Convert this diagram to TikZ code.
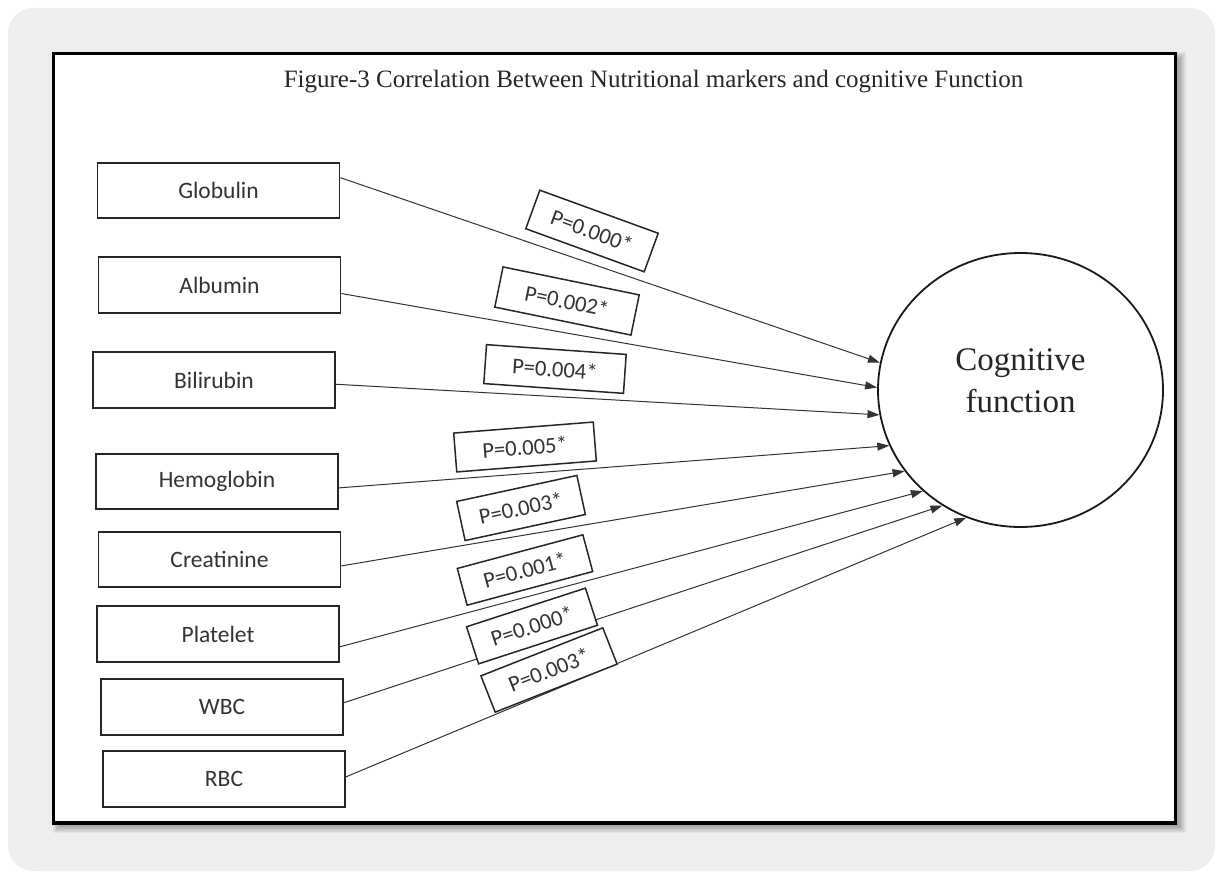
\documentclass[tikz,border=0pt]{standalone}
\usepackage{fontspec}
\setmainfont{Liberation Serif}
\newfontfamily\carl{Carlito}
\usetikzlibrary{arrows.meta,shapes.geometric}
\definecolor{bggray}{RGB}{238,238,238}
\begin{document}
\begin{tikzpicture}[x=1pt,y=-1pt,
  lbox/.style={draw=black!85, line width=1.8pt, fill=white, minimum width=242pt, minimum height=55pt, inner sep=0pt, font=\carl\fontsize{23.5}{27}\selectfont, text=black!80},
  pbox/.style={draw=black!85, line width=1.5pt, fill=white, inner sep=0pt, minimum height=39pt, font=\carl\fontsize{22.5}{26}\selectfont, text=black!80},
  conn/.style={draw=black!80, line width=1pt, -{Triangle[length=12pt,width=8pt]}}]
\useasboundingbox (0,0) rectangle (1219,872);
% page background
\fill[bggray, rounded corners=25pt] (8,8) rectangle (1215,871);
% drop shadow of frame
\foreach \i in {0,1,...,7}{
  \fill[black, opacity=0.045] (53.5+6-\i,53.5+6-\i) rectangle (1175.5+3+\i,823+3+\i);
}
% frame
\draw[fill=white, line width=3.5pt] (53.5,53.5) rectangle (1175.5,823);
% title
\node[anchor=base, inner sep=0pt, font=\fontsize{25}{29}\selectfont, text=black!85] (title) at (653.5,88) {Figure-3 Correlation Between Nutritional markers and cognitive Function};
% outcome
\node[ellipse, draw=black!90, line width=1.8pt, fill=white, minimum width=285pt, minimum height=274pt, inner sep=0pt, align=center, font=\fontsize{33}{42}\selectfont, text=black!85] (cog) at (1020.5,390) {Cognitive\\function\\[-23pt]\mbox{}};
% markers
\node[lbox] (glob) at (218.5,190.5) {Globulin};
\node[lbox, minimum height=56pt] (alb) at (219.5,285) {Albumin};
\node[lbox, minimum height=56pt] (bili) at (214,380) {Bilirubin};
\node[lbox] (hemo) at (217,481.5) {Hemoglobin};
\node[lbox] (crea) at (219.5,559.5) {Creatinine};
\node[lbox, minimum height=56pt] (plat) at (218,634) {Platelet};
\node[lbox, minimum height=56pt] (wbc) at (222,707) {WBC};
\node[lbox, minimum height=56pt] (rbc) at (224,779) {RBC};
% connectors
\draw[conn] (glob.6) -- (cog.169);
\draw[conn] (alb.356) -- (cog.179);
\draw[conn] (bili.358) -- (cog.190);
\draw[conn] (hemo.357) -- (cog.203);
\draw[conn] (crea.357) -- (cog.215);
\draw[conn] (plat.354) -- (cog.226);
\draw[conn] (wbc.2) -- (cog.236);
\draw[conn] (rbc.1) -- (cog.247);
% p-value labels
\node[pbox, rotate=-20, minimum width=126pt, minimum height=41pt] (p1) at (592,231) {P=0.000*};
\node[pbox, rotate=-11.6, minimum width=139pt, minimum height=41pt] (p2) at (567,301) {P=0.002*};
\node[pbox, rotate=-4, minimum width=140pt] (p3) at (555,369) {P=0.004*};
\node[pbox, rotate=4.5, minimum width=140pt] (p4) at (525,447) {P=0.005*};
\node[pbox, rotate=12.2, minimum width=123pt, minimum height=40pt] (p5) at (521,508) {P=0.003*};
\node[pbox, rotate=15, minimum width=130pt, minimum height=38pt] (p6) at (525,570) {P=0.001*};
\node[pbox, rotate=18, minimum width=125pt] (p7) at (532,626) {P=0.000*};
\node[pbox, rotate=21.5, minimum width=131pt] (p8) at (549,670) {P=0.003*};
\end{tikzpicture}
\end{document}
